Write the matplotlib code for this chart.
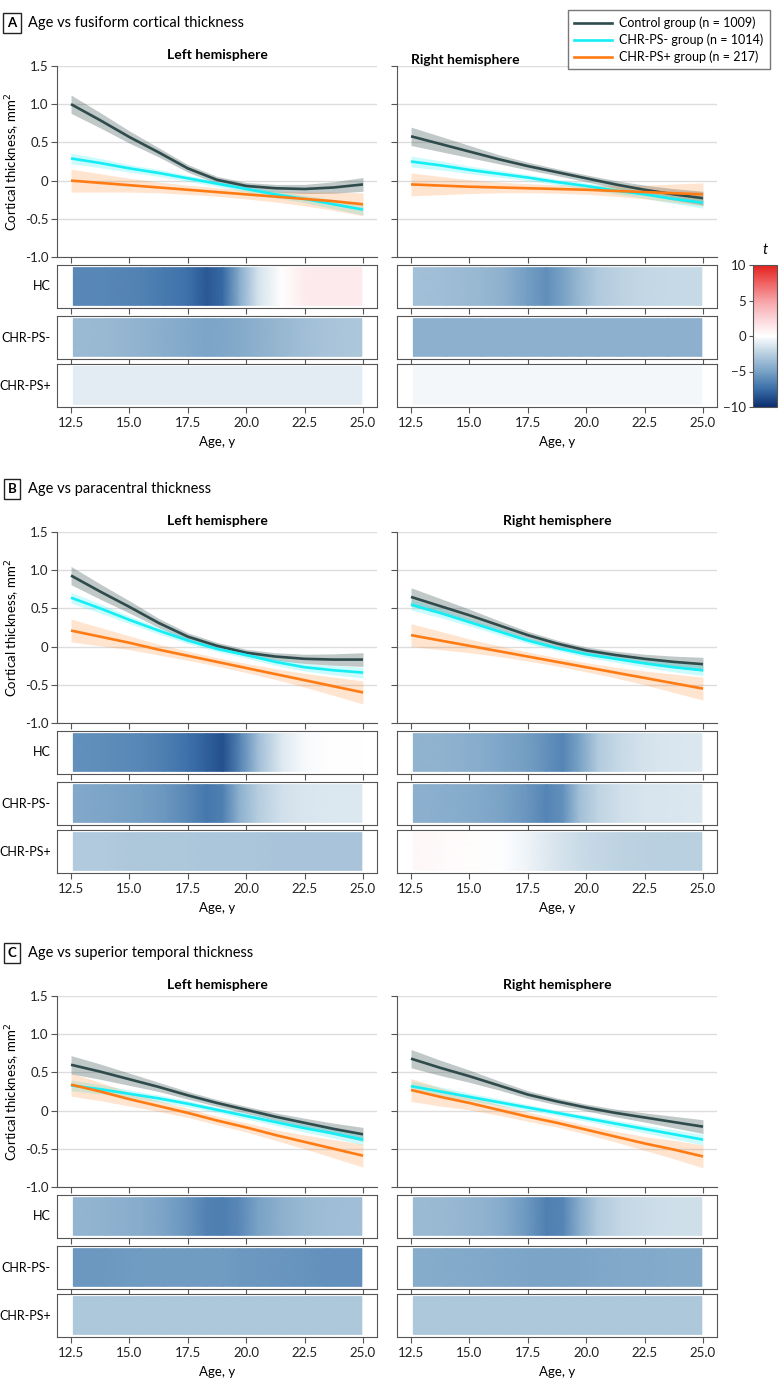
import numpy as np
import matplotlib
matplotlib.use("Agg")
import matplotlib.pyplot as plt
from matplotlib.colors import LinearSegmentedColormap
from matplotlib.lines import Line2D

# ---- data ----
ages = [12.5, 13.75, 15.0, 16.25, 17.5, 18.75, 20.0, 21.25, 22.5, 23.75, 25.0]

panel_titles = ["Age vs fusiform cortical thickness",
                "Age vs paracentral thickness",
                "Age vs superior temporal thickness"]
panel_letters = ["A", "B", "C"]
hemispheres = ["Left hemisphere", "Right hemisphere"]
groups = ["Control group (n = 1009)", "CHR-PS- group (n = 1014)", "CHR-PS+ group (n = 217)"]
strip_names = ["HC", "CHR-PS-", "CHR-PS+"]

# fitted thickness, order: control, chr-ps-, chr-ps+
fusiform_left = [[1.00, 0.79, 0.57, 0.37, 0.16, 0.01, -0.07, -0.10, -0.11, -0.09, -0.05],
                 [0.29, 0.23, 0.16, 0.10, 0.03, -0.04, -0.11, -0.18, -0.24, -0.31, -0.38],
                 [0.00, -0.03, -0.06, -0.09, -0.12, -0.15, -0.18, -0.21, -0.24, -0.27, -0.31]]
fusiform_right = [[0.58, 0.48, 0.38, 0.28, 0.19, 0.11, 0.03, -0.05, -0.12, -0.18, -0.23],
                  [0.25, 0.20, 0.14, 0.09, 0.04, -0.02, -0.07, -0.13, -0.18, -0.24, -0.29],
                  [-0.05, -0.065, -0.08, -0.09, -0.10, -0.11, -0.12, -0.135, -0.15, -0.165, -0.18]]
paracentral_left = [[0.93, 0.72, 0.52, 0.31, 0.13, 0.01, -0.08, -0.13, -0.16, -0.17, -0.17],
                    [0.64, 0.50, 0.35, 0.21, 0.08, -0.03, -0.11, -0.20, -0.27, -0.31, -0.34],
                    [0.21, 0.13, 0.05, -0.04, -0.12, -0.20, -0.28, -0.36, -0.44, -0.52, -0.60]]
paracentral_right = [[0.65, 0.53, 0.41, 0.28, 0.15, 0.04, -0.05, -0.11, -0.16, -0.20, -0.23],
                     [0.55, 0.44, 0.32, 0.20, 0.08, -0.02, -0.10, -0.16, -0.22, -0.27, -0.31],
                     [0.15, 0.08, 0.01, -0.06, -0.13, -0.20, -0.27, -0.34, -0.41, -0.48, -0.55]]
suptemp_left = [[0.60, 0.51, 0.41, 0.31, 0.20, 0.10, 0.01, -0.08, -0.16, -0.24, -0.31],
                [0.33, 0.28, 0.22, 0.16, 0.09, 0.01, -0.07, -0.15, -0.23, -0.30, -0.38],
                [0.34, 0.25, 0.15, 0.06, -0.03, -0.13, -0.22, -0.32, -0.41, -0.50, -0.59]]
suptemp_right = [[0.68, 0.56, 0.45, 0.33, 0.21, 0.12, 0.04, -0.03, -0.09, -0.15, -0.21],
                 [0.32, 0.25, 0.18, 0.11, 0.04, -0.03, -0.10, -0.17, -0.24, -0.31, -0.38],
                 [0.27, 0.18, 0.10, 0.01, -0.08, -0.16, -0.25, -0.34, -0.43, -0.51, -0.60]]

# 95% CI half widths per group
ci_control = [0.12, 0.10, 0.08, 0.06, 0.05, 0.045, 0.045, 0.05, 0.06, 0.075, 0.09]
ci_chr_neg = [0.07, 0.06, 0.05, 0.045, 0.04, 0.035, 0.04, 0.045, 0.05, 0.06, 0.07]
ci_chr_pos = [0.15, 0.12, 0.09, 0.07, 0.06, 0.055, 0.06, 0.07, 0.09, 0.12, 0.15]

# t statistics along age for the strips
t_ages = [12.6, 14.0, 15.5, 16.5, 17.5, 18.3, 19.0, 19.7, 20.5, 21.5, 22.5, 23.5, 24.95]
t_fus_left = [[-6.2, -6.3, -6.5, -6.9, -7.3, -8.3, -7.6, -4.5, -1.5, 0.0, 1.1, 1.2, 1.2],
              [-3.6, -3.7, -4.0, -4.3, -4.6, -4.8, -4.7, -4.5, -4.2, -3.8, -3.4, -3.1, -2.9],
              [-1.0, -1.0, -1.0, -1.0, -1.0, -1.0, -1.0, -1.0, -1.0, -1.0, -1.0, -1.0, -1.0]]
t_fus_right = [[-3.3, -3.5, -3.8, -4.2, -5.2, -5.9, -5.0, -3.8, -2.8, -2.3, -2.1, -2.0, -2.0],
               [-4.2, -4.2, -4.2, -4.2, -4.2, -4.2, -4.2, -4.2, -4.2, -4.2, -4.2, -4.2, -4.2],
               [-0.4, -0.4, -0.4, -0.4, -0.4, -0.4, -0.4, -0.4, -0.4, -0.4, -0.4, -0.4, -0.4]]
t_par_left = [[-5.8, -6.0, -6.3, -6.7, -7.3, -8.0, -8.6, -6.5, -3.5, -1.2, -0.3, 0.0, 0.0],
              [-4.6, -4.8, -5.1, -5.5, -6.2, -7.0, -6.6, -4.2, -2.6, -1.6, -1.3, -1.2, -1.2],
              [-2.8, -2.8, -2.9, -2.9, -2.9, -3.0, -3.0, -3.0, -3.0, -3.1, -3.1, -3.1, -3.1]]
t_par_right = [[-4.0, -4.1, -4.4, -4.8, -5.2, -5.8, -6.4, -5.0, -2.8, -1.9, -1.5, -1.3, -1.2],
               [-4.2, -4.3, -4.6, -5.0, -5.6, -6.4, -5.8, -3.4, -2.2, -1.6, -1.4, -1.3, -1.2],
               [0.4, 0.3, 0.1, -0.1, -0.6, -1.1, -1.5, -1.8, -2.1, -2.3, -2.4, -2.5, -2.5]]
t_sup_left = [[-3.9, -4.1, -4.4, -4.9, -5.7, -6.5, -6.7, -6.2, -5.0, -4.2, -3.7, -3.5, -3.4],
              [-5.5, -5.4, -5.3, -5.3, -5.3, -5.3, -5.3, -5.4, -5.5, -5.6, -5.7, -5.8, -5.8],
              [-2.9, -2.9, -2.9, -2.9, -2.9, -2.9, -2.9, -2.9, -2.9, -2.9, -2.9, -2.9, -2.9]]
t_sup_right = [[-3.6, -3.7, -4.0, -4.5, -5.5, -6.6, -6.4, -4.4, -2.8, -2.1, -1.8, -1.7, -1.7],
               [-4.4, -4.5, -4.6, -4.7, -4.8, -4.9, -4.9, -4.8, -4.7, -4.6, -4.6, -4.5, -4.5],
               [-2.9, -2.9, -2.9, -2.9, -2.9, -2.9, -2.9, -2.9, -2.9, -2.9, -2.9, -2.9, -2.9]]

curves = [(fusiform_left, fusiform_right), (paracentral_left, paracentral_right),
          (suptemp_left, suptemp_right)]
tstats = [(t_fus_left, t_fus_right), (t_par_left, t_par_right), (t_sup_left, t_sup_right)]
cis = [ci_control, ci_chr_neg, ci_chr_pos]
colors = ["#2f4b4b", "#14eef4", "#ff7b14"]
band_alpha = [0.3, 0.22, 0.2]

# diverging map matched to the reference colour bar
cmap = LinearSegmentedColormap.from_list("tmap", [
    (0.0, "#0b2e6f"), (0.125, "#3a6ea8"), (0.25, "#78a2c6"), (0.375, "#b8cfe0"),
    (0.5, "#ffffff"), (0.625, "#fbd3d8"), (0.75, "#f6a2a6"), (0.875, "#ef6262"),
    (1.0, "#e3221c")])

plt.rcParams["font.family"] = ["Lato", "DejaVu Sans"]
plt.rcParams["axes.edgecolor"] = "#555555"
plt.rcParams["xtick.color"] = "#555555"
plt.rcParams["ytick.color"] = "#555555"
plt.rcParams["xtick.labelcolor"] = "#222222"
plt.rcParams["ytick.labelcolor"] = "#222222"

W, H = 780, 1389
fig = plt.figure(figsize=(W / 100, H / 100), dpi=100)


def rect(x0, y0, x1, y1):
    return [x0 / W, 1 - y1 / H, (x1 - x0) / W, (y1 - y0) / H]


XLIM = (11.9, 25.6)
XTICKS = [12.5, 15.0, 17.5, 20.0, 22.5, 25.0]
cols = [(57, 377), (397, 717)]
offsets = [0, 466, 930]
strip_rows = [(265, 308), (316, 359), (364, 407)]
mesh = None

for p in range(3):
    y0 = offsets[p]
    fig.text(12 / W, 1 - (y0 + 23) / H, panel_letters[p], fontsize=9.5, fontweight="bold",
             ha="center", va="center",
             bbox=dict(boxstyle="square,pad=0.3", fc="white", ec="#222222", lw=1))
    fig.text(28 / W, 1 - (y0 + 23) / H, panel_titles[p], fontsize=10.5, ha="left", va="center")

    for h in range(2):
        xa, xb = cols[h]
        ax = fig.add_axes(rect(xa, y0 + 66, xb, y0 + 257))
        data = curves[p][h]
        for g in range(3):
            y = np.array(data[g])
            ci = np.array(cis[g])
            ax.fill_between(ages, y - ci, y + ci, color=colors[g], alpha=band_alpha[g], lw=0)
        for g in range(3):
            ax.plot(ages, data[g], color=colors[g], lw=1.9, solid_capstyle="butt")
        ax.set_xlim(*XLIM)
        ax.set_ylim(-1.0, 1.5)
        ax.set_yticks([-1.0, -0.5, 0, 0.5, 1.0, 1.5])
        ax.set_xticks(XTICKS)
        ax.tick_params(axis="x", labelbottom=False, length=4)
        ax.tick_params(axis="y", length=4, labelsize=9.5, pad=2)
        if h == 0:
            ax.set_yticklabels(["-1.0", "-0.5", "0", "0.5", "1.0", "1.5"])
            ax.set_ylabel("Cortical thickness, mm$^2$", fontsize=9.5)
            ax.yaxis.set_label_coords(-0.11, 0.5)
        else:
            ax.tick_params(axis="y", labelleft=False)
        ax.grid(axis="y", color="#dddddd", lw=1)
        ax.set_axisbelow(True)
        for s in ["top", "right"]:
            ax.spines[s].set_visible(False)
        if p == 0 and h == 1:
            # shifted left to make room for the legend
            ax.text(12.5, 1.0, hemispheres[h], transform=ax.get_xaxis_transform(),
                    fontsize=10, fontweight="bold", ha="left", va="bottom")
        else:
            ax.set_title(hemispheres[h], fontsize=10, fontweight="bold", pad=5)

        for r in range(3):
            ya, yb = strip_rows[r]
            sax = fig.add_axes(rect(xa, y0 + ya, xb, y0 + yb))
            tv = np.array(tstats[p][h][r])
            mesh = sax.pcolormesh(t_ages, [0, 1], np.vstack([tv, tv]), cmap=cmap,
                                  vmin=-10, vmax=10, shading="gouraud")
            sax.set_xlim(*XLIM)
            sax.set_ylim(-0.07, 1.07)
            sax.set_yticks([])
            sax.set_xticks(XTICKS)
            sax.tick_params(axis="x", length=4, labelsize=9.5)
            if r < 2:
                sax.tick_params(axis="x", labelbottom=False)
            else:
                sax.set_xticklabels(["12.5", "15.0", "17.5", "20.0", "22.5", "25.0"])
                sax.set_xlabel("Age, y", fontsize=9.5, labelpad=5)
            if h == 0:
                sax.set_ylabel(strip_names[r], rotation=0, ha="right", va="center",
                               fontsize=9)
                sax.yaxis.set_label_coords(-0.02, 0.5)

# colorbar for the t statistic
cax = fig.add_axes(rect(753, 265, 777, 407))
cb = fig.colorbar(mesh, cax=cax, ticks=[-10, -5, 0, 5, 10])
cb.ax.yaxis.set_ticks_position("left")
cb.ax.tick_params(labelsize=9.5, length=3, pad=2)
cb.outline.set_edgecolor("#555555")
fig.text(765 / W, 1 - 250 / H, "t", fontsize=10.5, style="italic", ha="center", va="center")

handles = [Line2D([0], [0], color=c, lw=1.9) for c in colors]
leg = fig.legend(handles, groups, loc="upper right", bbox_to_anchor=(776 / W, 1 - 4 / H),
                 fontsize=9, frameon=True, fancybox=False, handlelength=3.0,
                 borderpad=0.5, labelspacing=0.35, handletextpad=0.6)
leg.get_frame().set_edgecolor("#555555")
leg.get_frame().set_linewidth(1.0)

fig.savefig("out.png", dpi=100)
